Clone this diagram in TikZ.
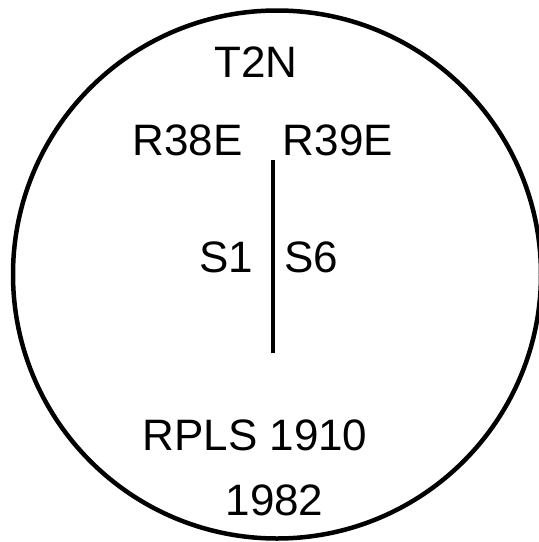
\documentclass[tikz,border=0pt]{standalone}
\usepackage{fontspec}
\setmainfont{Liberation Sans}
\usepackage{tikz}
\usetikzlibrary{positioning}

\tikzset{lbl/.style={anchor=base, inner sep=0pt, font=\fontsize{44}{44}\selectfont}}

\begin{document}
\begin{tikzpicture}[x=1pt, y=-1pt]
\useasboundingbox (0,0) rectangle (539,542);
\draw[black, line width=4.5pt] (277,274.5) circle (264);
\node[lbl] (twp) at (256,77) {T2N};
\node[lbl] (rgw) at (187.5,155) {R38E};
\node[lbl] (rge) at (338,155) {R39E};
\node[lbl] (sw) at (226,272) {S1};
\node[lbl] (se) at (311,272) {S6};
\node[lbl] (rpls) at (255,450) {RPLS 1910};
\node[lbl] (year) at (274.5,515) {1982};
\coordinate (ltop) at (273,160);
\coordinate (lbot) at (273,353);
\draw[black, line width=4.5pt] (ltop) -- (lbot);
\end{tikzpicture}
\end{document}
